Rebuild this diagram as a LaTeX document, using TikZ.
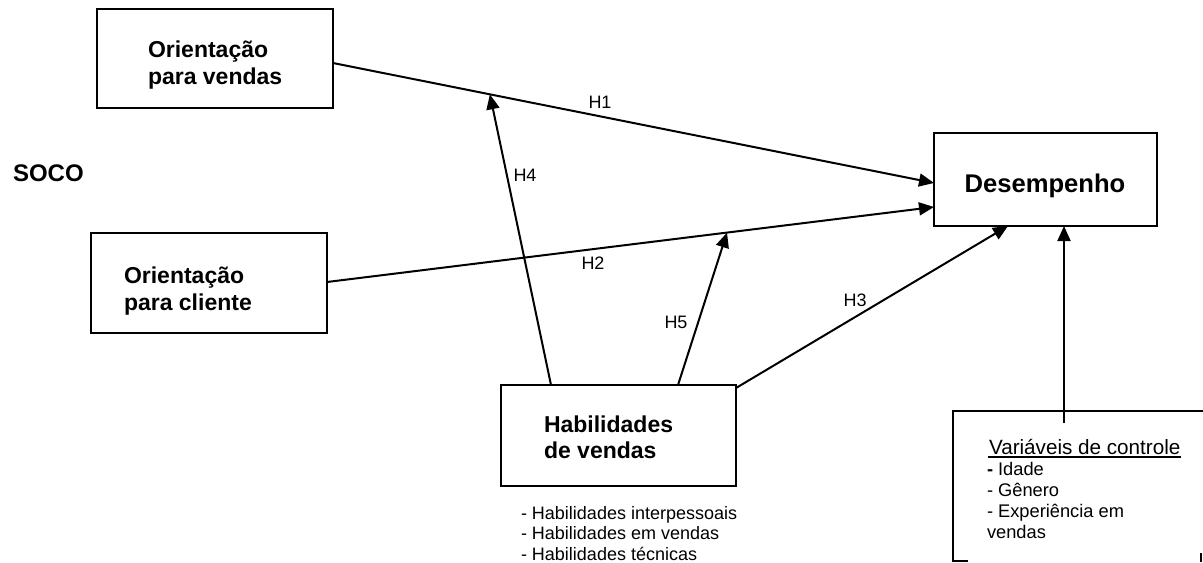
\documentclass[tikz,border=0pt]{standalone}
\usepackage{fontspec}
\setmainfont{Liberation Sans}
\usetikzlibrary{arrows.meta,calc}

\begin{document}
\begin{tikzpicture}[x=0.75pt,y=-0.75pt,
  line width=1.5pt,
  box/.style={draw, rectangle, inner sep=0pt, outer sep=0pt},
  lbl/.style={font=\fontsize{17.25}{20}\selectfont\bfseries, inner sep=0pt, anchor=base west},
  hyp/.style={font=\fontsize{13.5}{16}\selectfont, inner sep=0pt},
  item/.style={font=\fontsize{13.5}{16}\selectfont, inner sep=0pt, anchor=base west},
  ctlitem/.style={font=\fontsize{13.7}{16}\selectfont, inner sep=0pt, anchor=base west},
  arr/.style={-{Triangle[length=11.25pt,width=9.75pt]}},
]
\useasboundingbox (0,0) rectangle (1203,563);

% construct boxes
\node[box, minimum width=177pt, minimum height=74.25pt] (ov)  at (215,58.5) {};
\node[box, minimum width=177pt, minimum height=75pt]    (oc)  at (209,283) {};
\node[box, minimum width=167.25pt, minimum height=69.75pt] (des) at (1045.5,179.5) {};
\node[box, minimum width=176.25pt, minimum height=75.75pt] (hab) at (618.5,435.5) {};

% box labels
\node[lbl] (ov1) at (147,58) {Orientação};
\node[lbl] (ov2) at (147,85) {para vendas};
\node[lbl] (oc1) at (123,283) {Orientação};
\node[lbl] (oc2) at (123,310) {para cliente};
\node[lbl] (hab1) at (543,432) {Habilidades};
\node[lbl] (hab2) at (543,458) {de vendas};
\node[font=\fontsize{19.2}{22}\selectfont\bfseries, inner sep=0pt, anchor=base] (desl) at (1045,193) {Desempenho};
\node[font=\fontsize{18}{21}\selectfont\bfseries, inner sep=0pt, anchor=base west] (soco) at (12,182) {SOCO};

% dimensions of sales skills
\node[item] (hs1) at (520,519) {- Habilidades interpessoais};
\node[item] (hs2) at (520,539.5) {- Habilidades em vendas};
\node[item] (hs3) at (520,560) {- Habilidades técnicas};

% control variables
\draw (1203,411) -- (953,411) -- (953,561) -- (968,561);
\draw (1201,553) -- (1201,562);
\node[font=\fontsize{15.5}{18}\selectfont, inner sep=0pt, anchor=base west] (cv0) at (988,454) {Variáveis de controle};
\draw[line width=1.2pt] ($(cv0.base west)+(0,3)$) -- ($(cv0.base east)+(0,3)$);
\node[ctlitem] (cv1) at (986,475) {\textbf{-} Idade};
\node[ctlitem] (cv2) at (986,496) {- Gênero};
\node[ctlitem] (cv3) at (986,517) {- Experiência em};
\node[ctlitem] (cv4) at (986,538) {vendas};
\coordinate (cvtop) at (1064,423);

% hypotheses
\draw[arr] ($(ov.east)+(0,4.5)$) -- coordinate[pos=0.261] (m1) ($(des.west)+(0,3.5)$);
\draw[arr] ($(oc.east)+(0,-1)$) -- coordinate[pos=0.659] (m2) ($(des.west)+(0,27.5)$);
\draw[arr] ($(hab.north east)+(0,3)$) -- ($(des.south)+(-37.5,0)$);
\draw[arr] ($(hab.north)+(-67.5,0)$) -- (m1);
\draw[arr] ($(hab.north)+(59.5,0)$) -- (m2);
\draw[arr] (cvtop) -- (cvtop |- des.south);

\node[hyp] (h1) at (600,102) {H1};
\node[hyp] (h2) at (593,263) {H2};
\node[hyp] (h3) at (855,300) {H3};
\node[hyp] (h4) at (525,175) {H4};
\node[hyp] (h5) at (676,322) {H5};
\end{tikzpicture}
\end{document}
